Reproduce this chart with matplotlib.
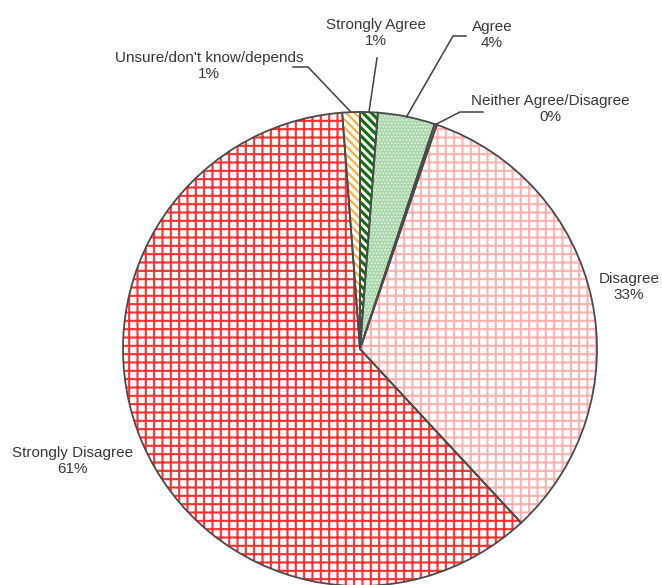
import numpy as np
import matplotlib.pyplot as plt

categories = ['Strongly Agree', 'Agree', 'Neither Agree/Disagree', 'Disagree',
              'Strongly Disagree', "Unsure/don't know/depends"]
values = [1.2, 3.9, 0.15, 32.85, 60.7, 1.2]
pct_labels = ['1%', '4%', '0%', '33%', '61%', '1%']

face_colors = ['white', '#acd6ac', '#d8d8d8', 'white', 'white', 'white']
hatch_colors = ['#106e10', '#e6f6e6', '#909090', '#ffb0b0', '#ff3030', '#f4b040']
hatches = ['\\\\\\\\', '.....', '', '++', '++', '\\\\\\\\']
hatch_widths = [2.2, 0.8, 1.0, 1.5, 1.5, 1.6]

W, H = 662, 585
plt.rcParams['hatch.linewidth'] = 1.5

fig = plt.figure(figsize=(W / 100, H / 100), dpi=100)
ax = fig.add_axes([0, 0, 1, 1])

cx, cy, r = 360, H - 349, 237

# filled, hatched wedges (hatch colour comes from the edge colour)
wedges, _ = ax.pie(values, colors=face_colors, startangle=90, counterclock=False,
                   center=(cx, cy), radius=r, wedgeprops=dict(linewidth=0))
for w, hc, h, hw in zip(wedges, hatch_colors, hatches, hatch_widths):
    w.set_edgecolor(hc)
    w.set_hatch(h)
    if hasattr(w, 'set_hatch_linewidth'):
        w.set_hatch_linewidth(hw)

# outlines on top
ax.pie(values, startangle=90, counterclock=False, center=(cx, cy), radius=r,
       wedgeprops=dict(fill=False, edgecolor='#4a4a4a', linewidth=1.3))

# label placement (pixels from top-left) and leader elbows
label_pos = {0: (376, 33), 1: (492, 35), 2: (550, 109), 3: (629, 287),
             4: (73, 461), 5: (209, 66)}
leaders = {0: [(377, 58)],
           1: [(453, 36), (466, 36)],
           2: [(460, 112), (483, 112)],
           5: [(308, 67), (293, 67)]}

for i, (cat, pct) in enumerate(zip(categories, pct_labels)):
    x, y = label_pos[i]
    ax.text(x, H - y, f'{cat}\n{pct}', ha='center', va='center', fontsize=11,
            family=['Liberation Sans', 'DejaVu Sans'], color='#383838', linespacing=1.1)
    if i in leaders:
        w = wedges[i]
        t = np.deg2rad((w.theta1 + w.theta2) / 2)
        xs = [cx + r * np.cos(t)] + [p[0] for p in leaders[i]]
        ys = [cy + r * np.sin(t)] + [H - p[1] for p in leaders[i]]
        ax.plot(xs, ys, color='#404040', linewidth=1.1)

ax.set_xlim(0, W)
ax.set_ylim(0, H)
ax.set_aspect('equal')
ax.axis('off')

fig.savefig('out.png', dpi=100)
